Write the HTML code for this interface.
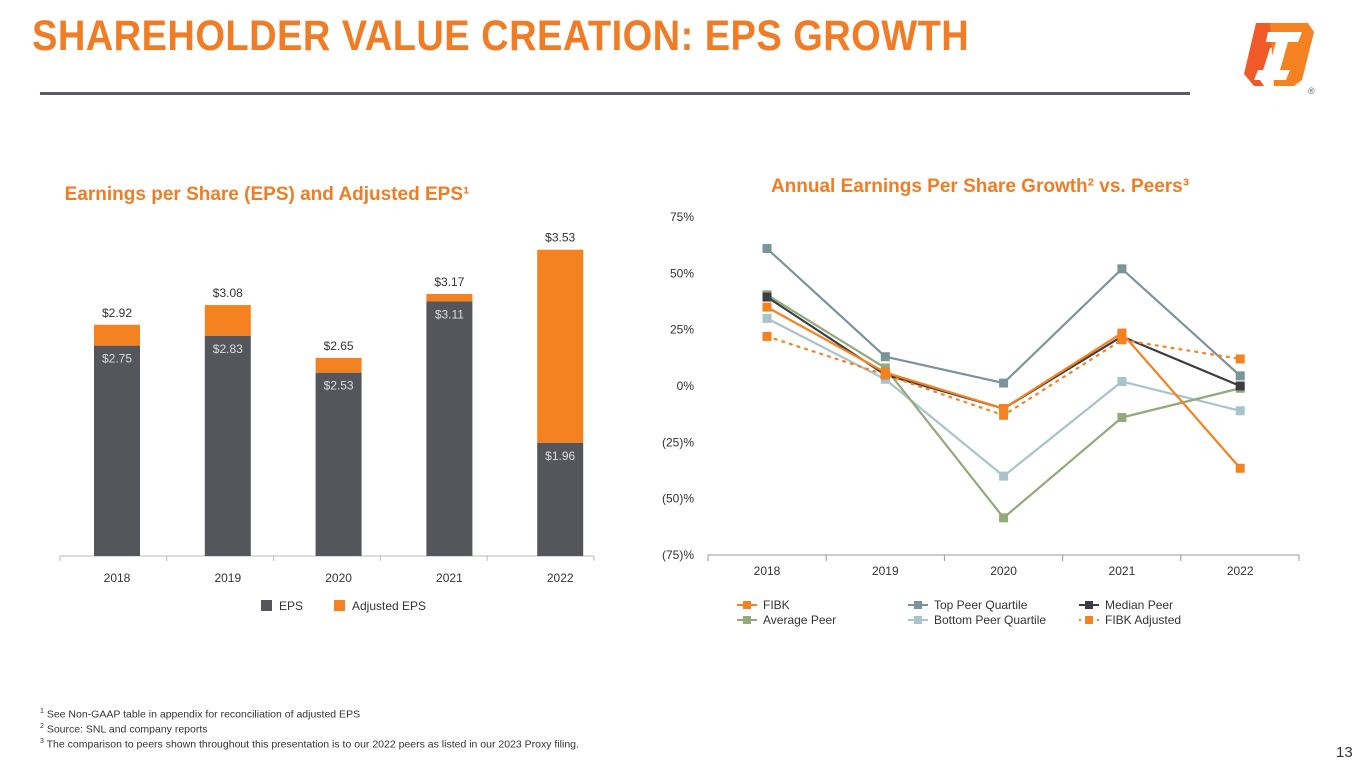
<!DOCTYPE html>
<html><head><meta charset="utf-8"><style>
body{margin:0;width:1365px;height:768px;background:#fff;font-family:"Liberation Sans",sans-serif;position:relative;overflow:hidden}
.abs{position:absolute}
</style></head><body>
<div class="abs" style="left:32px;top:12px;font-size:43px;font-weight:bold;color:#f07d26;letter-spacing:0.5px;transform:scaleX(0.885);transform-origin:left top;white-space:nowrap">SHAREHOLDER VALUE CREATION: EPS GROWTH</div>
<div class="abs" style="left:40px;top:92px;width:1150px;height:3px;background:#5a5d66"></div>
<svg class="abs" style="left:1240px;top:18px" width="115" height="80" viewBox="0 0 115 80">
<path d="M16 5 L44 5 L38 28 L30 30 L20 62 L24 68 L14 68 L4 56 Z" fill="#ef5a28"/>
<path d="M30 5 L68 5 L74 14 L62 62 L54 68 L34 68 Z" fill="#f58220"/>
<path d="M28 14 L62 14 L58 24 L48 24 L40 52 L50 52 L46 62 L14 62 L18 52 L28 52 L36 24 L26 24 Z" fill="#fff"/>
<path d="M28 14 L40 14 L36 24 L26 24 Z" fill="#fff"/>
<text x="68" y="76" font-size="9" fill="#666">®</text>
</svg>
<svg class="abs" style="left:0;top:0" width="1365" height="768" id="charts">
<text x="267" y="200" text-anchor="middle" font-size="19" font-weight="bold" fill="#f07d26">Earnings per Share (EPS) and Adjusted EPS¹</text>
<text x="980" y="192" text-anchor="middle" font-size="19" font-weight="bold" fill="#f07d26">Annual Earnings Per Share Growth² vs. Peers³</text>
<g id="bars"></g><g id="lines"></g>
</svg>
<div class="abs" style="left:40px;top:706px;font-size:10.5px;color:#333;line-height:12.5px">
<div><sup style="font-size:7px">1</sup> See Non-GAAP table in appendix for reconciliation of adjusted EPS</div>
<div><sup style="font-size:7px">2</sup> Source: SNL and company reports</div>
<div><sup style="font-size:7px">3</sup> The comparison to peers shown throughout this presentation is to our 2022 peers as listed in our 2023 Proxy filing.</div>
</div>
<div class="abs" style="left:1336px;top:744px;font-size:15px;color:#333">13</div>
<script>
const years=["2018","2019","2020","2021","2022"];
const eps=[2.75,2.83,2.53,3.11,1.96];
const adjEps=[2.92,3.08,2.65,3.17,3.53];
const fibk=[35,6,-10,23.5,-36.5];
const topQ=[61,13,1.3,52,4.5];
const median=[39.5,5,-10,22,0];
const avgPeer=[40.5,8,-58.5,-14,-1];
const bottomQ=[30,3,-40,2,-11];
const fibkAdj=[22,5,-13,20.5,12];
const yTicks=[75,50,25,0,-25,-50,-75];
const NS="http://www.w3.org/2000/svg";
function mk(t,a,p){const e=document.createElementNS(NS,t);for(const k in a)e.setAttribute(k,a[k]);p.appendChild(e);return e;}
const G="#54565c",O="#f58220";
const bg=document.getElementById('bars');
const bx=i=>117+i*110.8, by=v=>556-(v-1.04)*123;
const ax=mk('line',{x1:60,x2:594,y1:556,y2:556,stroke:'#bbb'},bg);

for(let i=0;i<=5;i++){mk('line',{x1:60+i*106.8,x2:60+i*106.8,y1:556,y2:561,stroke:'#bbb'},bg);}
years.forEach((y,i)=>{
 const x=bx(i);
 const a=mk('rect',{x:x-23,y:by(adjEps[i]),width:46,height:by(eps[i])-by(adjEps[i]),fill:O},bg);
 
 const r=mk('rect',{x:x-23,y:by(eps[i]),width:46,height:556-by(eps[i]),fill:G},bg);
 
 const t1=mk('text',{x:x,y:by(eps[i])+17,'text-anchor':'middle','font-size':12,fill:'#ddd'},bg);t1.textContent='$'+eps[i].toFixed(2);
 
 const t2=mk('text',{x:x,y:by(adjEps[i])-8,'text-anchor':'middle','font-size':12,fill:'#333'},bg);t2.textContent='$'+adjEps[i].toFixed(2);
 
 const t3=mk('text',{x:x,y:582,'text-anchor':'middle','font-size':12,fill:'#333'},bg);t3.textContent=y;
 
});
[[261,G,'EPS'],[334,O,'Adjusted EPS']].forEach(([x,c,l])=>{
 const r=mk('rect',{x:x,y:600,width:11,height:11,fill:c},bg);
 
 const t=mk('text',{x:x+18,y:610,'font-size':12,fill:'#333'},bg);t.textContent=l;
 
});
const lg=document.getElementById('lines');
const lx=i=>767+i*118.3, ly=v=>386-v*2.253;
const la=mk('line',{x1:708,x2:1299,y1:555,y2:555,stroke:'#999'},lg);

for(let i=0;i<=5;i++){mk('line',{x1:708+i*118.2,x2:708+i*118.2,y1:555,y2:561,stroke:'#999'},lg);}
yTicks.forEach(v=>{const t=mk('text',{x:694,y:ly(v)+4,'text-anchor':'end','font-size':12,fill:'#333'},lg);
 t.textContent=v<0?'('+(-v)+')%':v+'%';});
years.forEach((y,i)=>{const t=mk('text',{x:lx(i),y:575,'text-anchor':'middle','font-size':12,fill:'#333'},lg);t.textContent=y;
 });
const series=[
 ['top-peer-quartile',topQ,'#7a9499',false],
 ['bottom-peer-quartile',bottomQ,'#a9c3cb',false],
 ['average-peer',avgPeer,'#93a97a',false],
 ['median-peer',median,'#3c3d44',false],
 ['fibk-adjusted',fibkAdj,O,true],
 ['fibk',fibk,O,false]];
series.forEach(([n,d,c,dot])=>{
 const p=mk('polyline',{points:d.map((v,i)=>lx(i)+','+ly(v)).join(' '),fill:'none',stroke:c,'stroke-width':2.2,'stroke-dasharray':dot?'2 6':'none','stroke-linecap':'round'},lg);
 
 d.forEach((v,i)=>{const m=mk('rect',{x:lx(i)-4.5,y:ly(v)-4.5,width:9,height:9,fill:c},lg);
  });
});
const leg=[[737,605,O,false,'FIBK'],[908,605,'#7a9499',false,'Top Peer Quartile'],[1079,605,'#3c3d44',false,'Median Peer'],
 [737,620,'#93a97a',false,'Average Peer'],[908,620,'#a9c3cb',false,'Bottom Peer Quartile'],[1079,620,O,true,'FIBK Adjusted']];
leg.forEach(([x,y,c,dot,l])=>{
 mk('line',{x1:x,x2:x+20,y1:y,y2:y,stroke:c,'stroke-width':2,'stroke-dasharray':dot?'2 4':'none'},lg);
 const r=mk('rect',{x:x+6,y:y-4,width:8,height:8,fill:c},lg);
 
 const t=mk('text',{x:x+26,y:y+4,'font-size':12,fill:'#333'},lg);t.textContent=l;
 
});
</script>
</body></html>
